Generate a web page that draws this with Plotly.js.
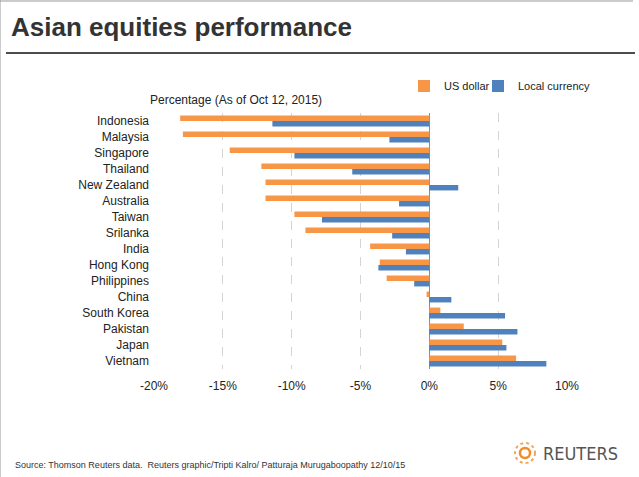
<!DOCTYPE html>
<html>
<head>
<meta charset="utf-8">
<script src="https://cdn.plot.ly/plotly-3.0.1.min.js"></script>
<style>
html,body{margin:0;padding:0;background:#fff;}
#chart{width:639px;height:477px;}
</style>
</head>
<body>
<div id="chart"></div>
<script>
const countries = ["Indonesia","Malaysia","Singapore","Thailand","New Zealand","Australia","Taiwan","Srilanka","India","Hong Kong","Philippines","China","South Korea","Pakistan","Japan","Vietnam"];
const usDollar = [-18.1,-17.9,-14.5,-12.2,-11.9,-11.9,-9.8,-9.0,-4.3,-3.6,-3.1,-0.2,0.8,2.5,5.3,6.3];
const localCurrency = [-11.4,-2.9,-9.8,-5.6,2.1,-2.2,-7.8,-2.7,-1.7,-3.7,-1.1,1.6,5.5,6.4,5.6,8.5];
const tickValues = [-20,-15,-10,-5,0,5,10];
const tickLabels = ["-20%","-15%","-10%","-5%","0%","5%","10%"];

const FONT = "Liberation Sans, Arial, sans-serif";

const traces = [
  {type:"bar", orientation:"h", name:"US dollar", y:countries, x:usDollar,
   marker:{color:"#F79646"}, hoverinfo:"skip", legend:"legend"},
  {type:"bar", orientation:"h", name:"Local currency", y:countries, x:localCurrency,
   marker:{color:"#4F81BD"}, hoverinfo:"skip", legend:"legend2"}
];

const legendCommon = {orientation:"h", xanchor:"left", y:1.105, yanchor:"middle",
  font:{family:FONT, size:11, color:"#222"}, itemwidth:30, bgcolor:"rgba(0,0,0,0)"};

const layout = {
  width:639, height:477,
  margin:{l:154, r:72, t:113, b:108, pad:0},
  paper_bgcolor:"#fff", plot_bgcolor:"#fff",
  font:{family:FONT, size:12, color:"#222"},
  barmode:"group", bargap:0.32, bargroupgap:0,
  xaxis:{range:[-20,10], tickvals:tickValues, ticktext:tickLabels,
    showgrid:true, gridcolor:"#d4d4d4", griddash:"dash", gridwidth:1,
    zeroline:true, zerolinecolor:"#8c8c8c", zerolinewidth:1,
    showline:false, ticks:"", ticklabelstandoff:8,
    tickfont:{family:FONT, size:12, color:"#222"}, fixedrange:true},
  yaxis:{autorange:"reversed", type:"category", showgrid:false, zeroline:false,
    showline:false, ticks:"", ticklabelstandoff:4,
    tickfont:{family:FONT, size:12, color:"#222"}, fixedrange:true},
  showlegend:true,
  legend:Object.assign({}, legendCommon, {x:(404-154)/413}),
  legend2:Object.assign({}, legendCommon, {x:(478-154)/413}),
  shapes:[
    {type:"line", xref:"paper", yref:"paper", x0:-154/413, x1:-154/413, y0:-108/256, y1:(256+113)/256,
     line:{color:"#999", width:1}},
    {type:"line", xref:"paper", yref:"paper", x0:-154/413, x1:(413+66)/413, y0:(256+112)/256, y1:(256+112)/256,
     line:{color:"#999", width:1}},
    {type:"line", xref:"paper", yref:"paper", x0:-148/413, x1:(413+68)/413, y0:(256+60)/256, y1:(256+60)/256,
     line:{color:"#111", width:1.5}},
    {type:"circle", xref:"paper", yref:"paper", x0:(515-154)/413, x1:(535-154)/413, y0:(369-463)/256, y1:(369-443)/256,
     line:{color:"#F2A65A", width:2, dash:"dot"}},
    {type:"circle", xref:"paper", yref:"paper", x0:(520-154)/413, x1:(530-154)/413, y0:(369-458)/256, y1:(369-448)/256,
     line:{color:"#F28C28", width:2.5}}
  ],
  annotations:[
    {text:"<b>Asian equities performance</b>", xref:"paper", yref:"paper",
     x:-145/413, y:(369-27)/256, xanchor:"left", yanchor:"middle", showarrow:false,
     font:{family:FONT, size:26, color:"#333"}},
    {text:"Percentage (As of Oct 12, 2015)", xref:"paper", yref:"paper",
     x:-6/413, y:(369-100)/256, xanchor:"left", yanchor:"middle", showarrow:false,
     font:{family:FONT, size:12, color:"#222"}},
    {text:"Source: Thomson Reuters data.  Reuters graphic/Tripti Kalro/ Patturaja Murugaboopathy 12/10/15",
     xref:"paper", yref:"paper", x:-141/413, y:(369-465)/256, xanchor:"left", yanchor:"middle",
     showarrow:false, font:{family:FONT, size:9, color:"#333"}},
    {text:"REUTERS", xref:"paper", yref:"paper", x:(541-154)/413, y:(369-453)/256,
     xanchor:"left", yanchor:"middle", showarrow:false,
     font:{family:"DejaVu Sans Condensed, Liberation Sans Narrow, Arial, sans-serif", size:18, color:"#555"}}
  ]
};

Plotly.newPlot("chart", traces, layout, {staticPlot:true, displayModeBar:false});
</script>
</body>
</html>
